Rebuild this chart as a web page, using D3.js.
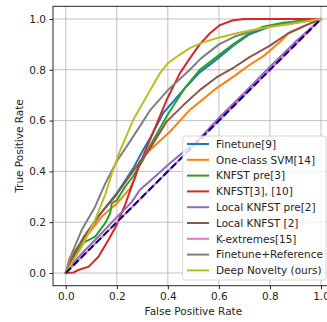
<!doctype html>
<html>
<head>
<meta charset="utf-8">
<script src="https://d3js.org/d3.v7.min.js"></script>
<style>
  body { margin: 0; background: #fff; }
  svg { font-family: "DejaVu Sans", sans-serif; }
</style>
</head>
<body>
<svg id="chart" width="327" height="322"></svg>
<script>
// series: [fpr, tpr]
const finetune = [[0,0],[.03,.07],[.07,.14],[.133,.23],[.2,.314],[.263,.41],[.303,.484],[.33,.53],[.382,.63],[.46,.72],[.525,.79],[.59,.84],[.656,.895],[.72,.94],[.8,.97],[.9,.99],[1,1]];
const ocsvm = [[0,0],[.015,.06],[.037,.09],[.09,.156],[.141,.222],[.2,.274],[.25,.33],[.27,.37],[.29,.44],[.33,.484],[.408,.556],[.486,.642],[.59,.727],[.66,.775],[.72,.819],[.78,.858],[.84,.91],[.872,.944],[.94,.975],[1,1]];
const knfstPre = [[0,0],[.03,.06],[.07,.12],[.115,.143],[.154,.195],[.174,.235],[.18,.274],[.2,.287],[.233,.34],[.263,.38],[.3,.44],[.33,.5],[.4,.625],[.47,.733],[.525,.8],[.59,.85],[.656,.9],[.72,.945],[.774,.97],[.85,.985],[1,1]];
const knfst = [[0,0],[.03,.002],[.05,.012],[.09,.025],[.128,.064],[.167,.13],[.2,.19],[.233,.27],[.258,.34],[.29,.43],[.33,.524],[.395,.681],[.447,.786],[.486,.845],[.525,.9],[.565,.944],[.604,.976],[.656,.995],[.7,1],[1,1]];
const localPre = [[0,0],[.03,.04],[.063,.077],[.115,.13],[.2,.22],[.259,.28],[.29,.327],[.35,.38],[.408,.432],[.525,.53],[.6,.61],[.7,.71],[.8,.812],[.9,.91],[1,1]];
const localKnfst = [[0,0],[.03,.07],[.07,.14],[.133,.23],[.2,.31],[.263,.4],[.33,.49],[.395,.596],[.46,.66],[.525,.72],[.59,.77],[.66,.81],[.72,.85],[.8,.895],[.872,.944],[.94,.975],[1,1]];
const kExtremes = [[0,0],[1,1]];
const finetuneRef = [[0,0],[.024,.077],[.063,.17],[.115,.261],[.155,.353],[.2,.44],[.264,.537],[.33,.64],[.4,.72],[.486,.8],[.53,.845],[.6,.9],[.66,.93],[.72,.95],[.8,.97],[.9,.985],[1,1]];
const deepNovelty = [[0,0],[.03,.05],[.063,.104],[.115,.209],[.155,.31],[.18,.39],[.212,.48],[.264,.602],[.316,.694],[.369,.786],[.4,.826],[.447,.86],[.486,.885],[.53,.905],[.59,.924],[.67,.944],[.76,.963],[.88,.98],[1,1]];
const chance = [[0,0],[1,1]];

const names = ["Finetune[9]", "One-class SVM[14]", "KNFST pre[3]", "KNFST[3], [10]", "Local KNFST pre[2]",
  "Local KNFST [2]", "K-extremes[15]", "Finetune+Reference", "Deep Novelty (ours)"];
const series = [finetune, ocsvm, knfstPre, knfst, localPre, localKnfst, kExtremes, finetuneRef, deepNovelty];
const colors = ["#1f77b4", "#ff7f0e", "#2ca02c", "#d62728", "#9467bd", "#8c564b", "#e377c2", "#7f7f7f", "#bcbd22"];
const ticks = [0, 0.2, 0.4, 0.6, 0.8, 1.0];

const svg = d3.select("#chart");
const mLeft = 53, mRight = 333.75, mTop = 6.3, mBottom = 285.7;

const x = d3.scaleLinear().domain([-0.05, 1.05]).range([mLeft, mRight]);
const y = d3.scaleLinear().domain([-0.05, 1.05]).range([mBottom, mTop]);

// grid
svg.append("g").selectAll("line").data(ticks).join("line")
  .attr("x1", d => x(d)).attr("x2", d => x(d)).attr("y1", mTop).attr("y2", mBottom)
  .attr("stroke", "#b0b0b0").attr("stroke-width", 0.8);
svg.append("g").selectAll("line").data(ticks).join("line")
  .attr("y1", d => y(d)).attr("y2", d => y(d)).attr("x1", mLeft).attr("x2", mRight)
  .attr("stroke", "#b0b0b0").attr("stroke-width", 0.8);

// axes
const xAxis = svg.append("g").attr("transform", `translate(0,${mBottom})`)
  .call(d3.axisBottom(x).tickValues(ticks).tickFormat(d3.format(".1f")).tickSizeOuter(0).tickSize(3.5).tickPadding(3.5));
const yAxis = svg.append("g").attr("transform", `translate(${mLeft},0)`)
  .call(d3.axisLeft(y).tickValues(ticks).tickFormat(d3.format(".1f")).tickSizeOuter(0).tickSize(3.5).tickPadding(3.5));
[xAxis, yAxis].forEach(a => {
  a.select(".domain").remove();
  a.selectAll("text").attr("font-size", "10.5px").attr("fill", "#262626").attr("font-family", "DejaVu Sans");
  a.selectAll("line").attr("stroke", "#262626");
});

// curves
const line = d3.line().x(d => x(d[0])).y(d => y(d[1]));
series.forEach((s, i) => {
  svg.append("path").datum(s).attr("d", line)
    .attr("fill", "none").attr("stroke", colors[i]).attr("stroke-width", 2)
    .attr("stroke-linejoin", "round").attr("stroke-linecap", "square");
});
svg.append("path").datum(chance).attr("d", line)
  .attr("fill", "none").attr("stroke", "#000080").attr("stroke-width", 2)
  .attr("stroke-dasharray", "7.4,3.2");

// frame
svg.append("rect").attr("x", mLeft).attr("y", mTop).attr("width", mRight - mLeft).attr("height", mBottom - mTop)
  .attr("fill", "none").attr("stroke", "#262626").attr("stroke-width", 1);

// labels
svg.append("text").attr("x", (mLeft + mRight) / 2).attr("y", 315).attr("text-anchor", "middle")
  .attr("font-size", "10.5px").attr("fill", "#262626").text("False Positive Rate");
svg.append("text").attr("transform", `translate(23,${(mTop + mBottom) / 2}) rotate(-90)`)
  .attr("text-anchor", "middle").attr("font-size", "10.5px").attr("fill", "#262626").text("True Positive Rate");

// legend
const lg = svg.append("g");
lg.append("rect").attr("x", 182.7).attr("y", 136).attr("width", 143.3).attr("height", 144)
  .attr("rx", 2.5).attr("fill", "#fff").attr("fill-opacity", 0.8).attr("stroke", "#cccccc").attr("stroke-width", 0.8);
names.forEach((n, i) => {
  const yy = 144 + i * 15.8;
  lg.append("line").attr("x1", 187).attr("x2", 209).attr("y1", yy).attr("y2", yy)
    .attr("stroke", colors[i]).attr("stroke-width", 2);
  lg.append("text").attr("x", 216).attr("y", yy).attr("dy", "0.36em")
    .attr("font-size", "10.5px").attr("fill", "#262626").text(n);
});
</script>
</body>
</html>
